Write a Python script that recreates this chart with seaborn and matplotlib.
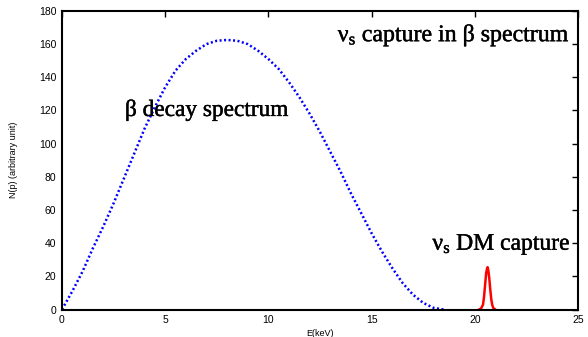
import matplotlib
matplotlib.use("Agg")
import matplotlib.pyplot as plt
import matplotlib.patheffects as pe
import seaborn as sns
import pandas as pd

# Beta decay spectrum
beta_E = [0, 0.5, 1, 1.5, 2, 2.5, 3, 3.5, 4, 4.5, 5, 5.5, 6, 6.5, 7, 7.5, 8, 8.5, 9,
          9.5, 10, 10.5, 11, 11.5, 12, 12.5, 13, 13.5, 14, 14.5, 15, 15.5, 16, 16.5,
          17, 17.5, 18, 18.5]
beta_N = [0, 11, 23, 37, 50, 64, 79, 94, 109, 122, 134, 144, 151, 156, 160, 162, 162.5,
          162, 160, 156, 151, 145, 137, 128, 118, 107, 95, 83, 70, 58, 46, 35, 25, 16,
          9, 4, 1, 0]

# sterile neutrino DM capture peak
peak_E = [20.2, 20.3, 20.4, 20.45, 20.5, 20.55, 20.6, 20.62, 20.65, 20.7, 20.75, 20.8, 20.85, 20.9, 21.0]
peak_N = [0, 0.5, 3, 8, 15, 22, 25, 25.5, 24, 19, 12, 6, 2.5, 0.8, 0]

xticks = [0, 5, 10, 15, 20, 25]
yticks = [0, 20, 40, 60, 80, 100, 120, 140, 160, 180]

sns.set_style("white")
plt.rcParams['font.family'] = ['Liberation Sans', 'DejaVu Sans']
plt.rcParams['mathtext.fontset'] = 'custom'
plt.rcParams['mathtext.rm'] = 'Liberation Serif'
plt.rcParams['mathtext.it'] = 'Liberation Serif'
plt.rcParams['text.color'] = 'black'

fig = plt.figure(figsize=(5.88, 3.37), dpi=100)
ax = fig.add_axes([0.1054, 0.0816, 0.8776, 0.886])

df_beta = pd.DataFrame({"E": beta_E, "N": beta_N})
df_peak = pd.DataFrame({"E": peak_E, "N": peak_N})

sns.lineplot(data=df_beta, x="E", y="N", ax=ax, color="#0000ff", lw=1.8,
             linestyle=(0, (0.8, 1.0)))
sns.lineplot(data=df_peak, x="E", y="N", ax=ax, color="#ff0000", lw=1.8)

ax.set_xlim(0, 25)
ax.set_ylim(0, 180)
ax.set_xticks(xticks)
ax.set_yticks(yticks)
ax.tick_params(direction="in", length=4, width=1, top=True, right=True,
               labelsize=7.5, pad=4, colors="black")
for s in ax.spines.values():
    s.set_linewidth(1.5)
    s.set_color("black")

ax.set_xlabel("E(keV)", fontsize=6.5, labelpad=3, color="black")
ax.set_ylabel("N(p) (arbitrary unit)", fontsize=6.5, labelpad=15, color="black")

serif = ['Liberation Serif', 'DejaVu Serif']
heavy = [pe.withStroke(linewidth=0.3, foreground="black")]
ax.text(3.05, 120, "β decay spectrum", fontsize=16.8, family=serif,
        ha="left", va="center", color="black", path_effects=heavy)
ax.text(24.6, 165, "ν$_\\mathrm{s}$ capture in β spectrum", fontsize=17.2,
        family=serif, ha="right", va="center", color="black", path_effects=heavy)
ax.text(24.65, 39, "ν$_\\mathrm{s}$ DM capture", fontsize=17.0, family=serif,
        ha="right", va="center", color="black", path_effects=heavy)

fig.savefig("out.png", dpi=100)
